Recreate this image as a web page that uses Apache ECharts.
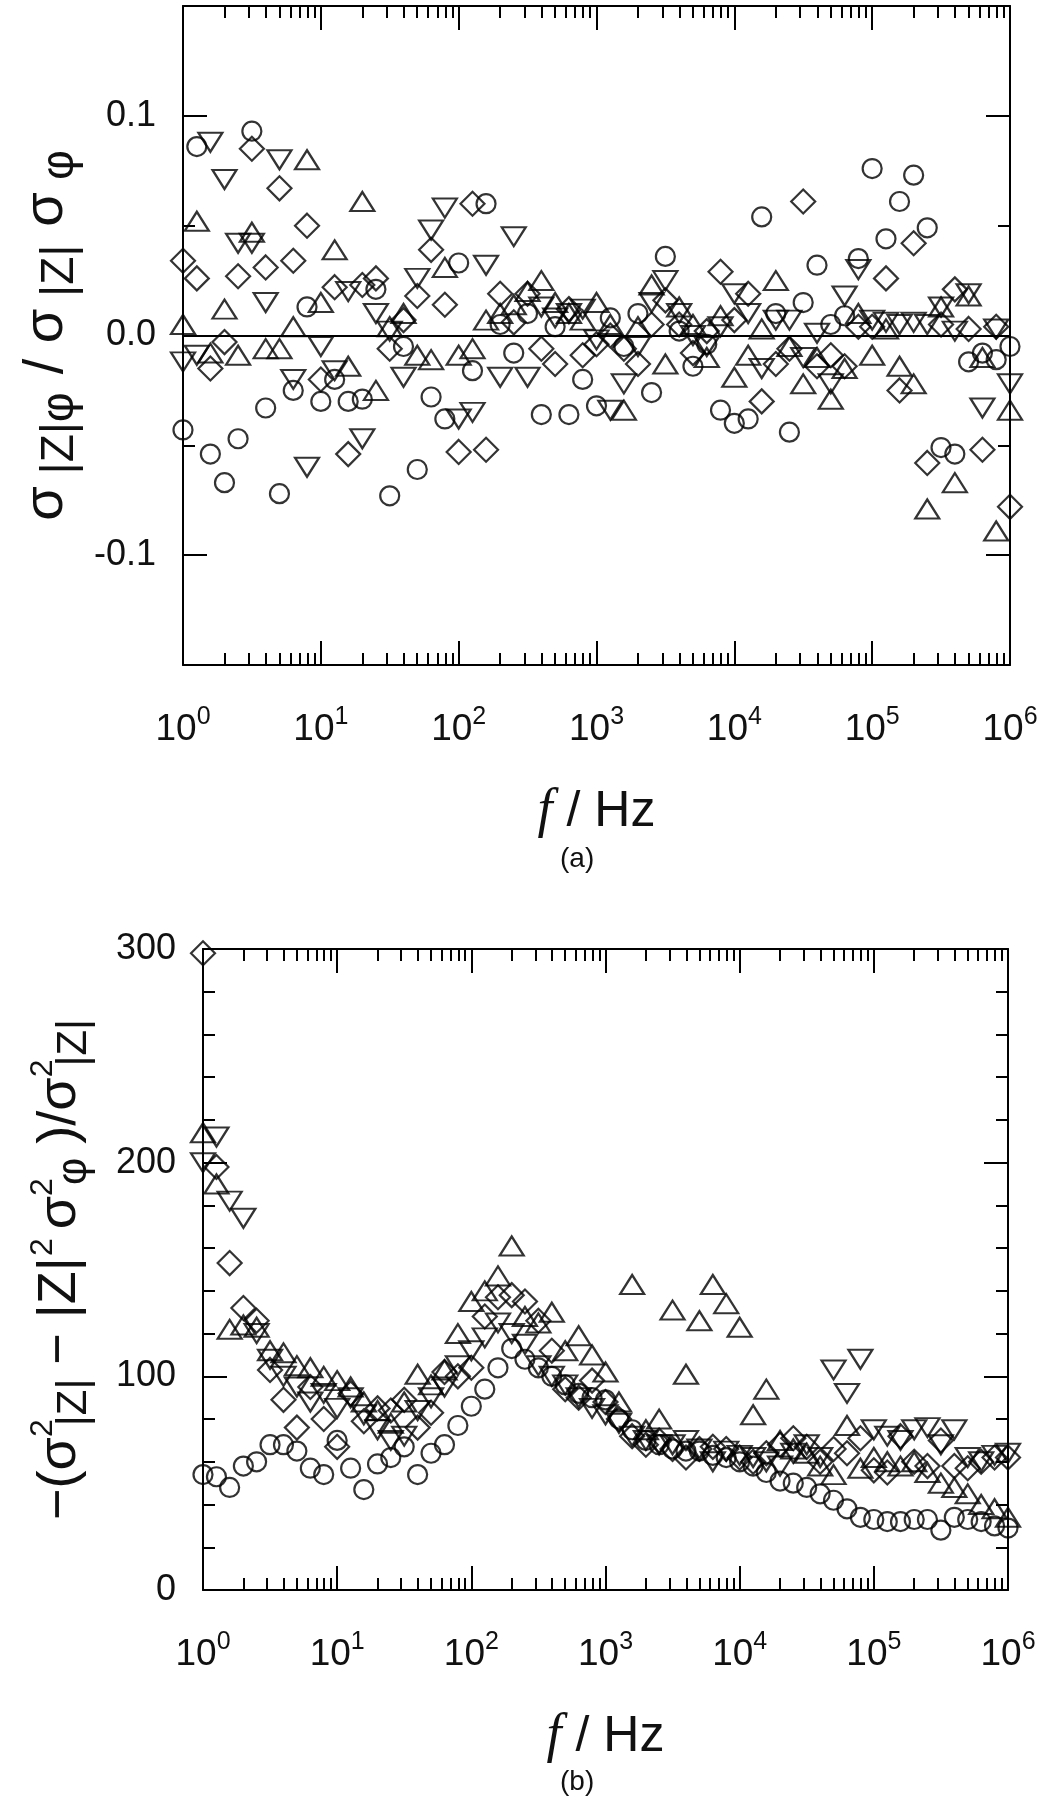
<!DOCTYPE html>
<html>
<head>
<meta charset="utf-8">
<script src="https://cdn.jsdelivr.net/npm/echarts@6/dist/echarts.min.js"></script>
<style>
  html, body { margin: 0; padding: 0; background: #fff; }
  #chart { width: 1038px; height: 1800px; }
</style>
</head>
<body>
<div id="chart"></div>
<script>
// frequencies, 10 points per decade, 1 Hz .. 1 MHz
const freq = [
  1, 1.26, 1.58, 2, 2.51, 3.16, 3.98, 5.01, 6.31, 7.94,
  10, 12.6, 15.8, 20, 25.1, 31.6, 39.8, 50.1, 63.1, 79.4,
  100, 126, 158, 200, 251, 316, 398, 501, 631, 794,
  1000, 1260, 1580, 2000, 2510, 3160, 3980, 5010, 6310, 7940,
  10000, 12600, 15800, 20000, 25100, 31600, 39800, 50100, 63100, 79400,
  100000, 126000, 158000, 200000, 251000, 316000, 398000, 501000, 631000, 794000,
  1000000
]

// panel (a)
const aCircle = [
  -0.043, 0.086, -0.054, -0.067, -0.047, 0.093, -0.033, -0.072, -0.025, 0.013,
  -0.030, -0.020, -0.030, -0.029, 0.021, -0.073, -0.005, -0.061, -0.028, -0.038,
  0.033, -0.016, 0.060, 0.005, -0.008, 0.010, -0.036, 0.004, -0.036, -0.020,
  -0.032, 0.008, -0.005, 0.010, -0.026, 0.036, 0.002, -0.014, -0.004, -0.034,
  -0.040, -0.038, 0.054, 0.010, -0.044, 0.015, 0.032, 0.005, 0.009, 0.035,
  0.076, 0.044, 0.061, 0.073, 0.049, -0.051, -0.054, -0.012, -0.008, -0.011,
  -0.005
]
const aUp = [
  0.005, 0.052, -0.008, 0.012, -0.009, 0.047, -0.006, -0.006, 0.004, 0.080,
  0.015, 0.039, -0.014, 0.061, -0.025, 0.004, 0.010, -0.009, -0.011, 0.031,
  -0.009, -0.006, 0.007, 0.010, 0.014, 0.020, 0.025, 0.015, 0.010, 0.007,
  0.015, 0.005, -0.034, 0.004, 0.023, -0.013, 0.013, 0.005, -0.010, 0.009,
  -0.019, -0.009, 0.003, 0.025, -0.005, -0.022, -0.010, -0.029, -0.015, 0.010,
  -0.009, 0.003, -0.014, -0.022, -0.079, 0.013, -0.067, 0.018, -0.010, -0.089,
  -0.034
]
const aDown = [
  -0.012, -0.009, 0.088, 0.071, 0.042, 0.042, 0.015, 0.080, -0.020, -0.060,
  -0.005, -0.016, 0.020, -0.047, 0.010, 0.002, -0.019, 0.026, 0.048, 0.058,
  -0.038, -0.035, 0.032, -0.019, 0.045, -0.019, 0.013, 0.008, 0.010, 0.012,
  -0.002, -0.034, -0.022, -0.005, 0.015, 0.025, 0.010, 0.000, -0.005, 0.004,
  0.019, 0.010, -0.015, 0.007, 0.007, -0.010, 0.001, -0.022, 0.018, 0.030,
  0.007, 0.006, 0.005, 0.006, 0.005, 0.013, 0.002, 0.019, -0.033, 0.003,
  -0.022
]
const aDiamond = [
  0.034, 0.026, -0.015, -0.003, 0.027, 0.085, 0.031, 0.067, 0.034, 0.050,
  -0.020, 0.022, -0.054, 0.023, 0.026, -0.006, 0.007, 0.018, 0.039, 0.014,
  -0.053, 0.060, -0.052, 0.019, 0.006, 0.019, -0.006, -0.013, 0.012, -0.009,
  -0.004, 0.000, -0.006, -0.013, 0.005, 0.016, 0.005, -0.008, 0.002, 0.029,
  0.007, 0.019, -0.030, -0.013, -0.006, 0.061, -0.014, -0.009, -0.014, 0.004,
  0.004, 0.026, -0.025, 0.042, -0.058, 0.005, 0.021, 0.003, -0.052, 0.004,
  -0.078
]

// panel (b)
const bCircle = [
  54, 53, 48, 58, 60, 68, 68, 65, 57, 54,
  70, 57, 47, 59, 62, 67, 54, 64, 68, 77,
  86, 94, 104, 113, 108, 104, 100, 96, 92, 90,
  89, 80, 75, 70, 68, 66, 65, 65, 63, 62,
  60, 58, 55, 51, 50, 48, 45, 42, 38, 34,
  33, 32, 32, 33, 33, 28, 34, 33, 32, 30,
  29
]
const bUp = [
  214, 190, 122, 124, 123, 112, 111, 105, 104, 100,
  98, 95, 88, 84, 78, 88, 101, 96, 103, 120,
  135, 140, 147, 161, 128, 125, 130, 112, 119, 110,
  102, 88, 143, 75, 80, 131, 101, 126, 143, 134,
  123, 82, 94, 70, 66, 64, 58, 54, 77, 57,
  62, 60, 58, 60, 55, 50, 48, 45, 40, 38,
  34
]
const bDown = [
  200, 212, 182, 174, 120, 108, 100, 95, 88, 92,
  85, 90, 82, 75, 70, 72, 84, 90, 95, 105,
  112, 118, 125, 120, 115, 105, 100, 96, 90, 85,
  82, 78, 72, 70, 68, 68, 70, 66, 60, 65,
  63, 62, 60, 58, 64, 68, 62, 103, 92, 108,
  75, 72, 70, 75, 76, 68, 75, 62, 60, 63,
  64
]
const bDiamond = [
  298, 198, 153, 132, 126, 103, 89, 76, 95, 80,
  67, 92, 79, 85, 84, 89, 76, 83, 102, 100,
  104, 128, 137, 138, 135, 126, 112, 94, 90, 98,
  88, 80, 72, 68, 70, 66, 62, 66, 67, 66,
  62, 60, 64, 68, 71, 67, 60, 66, 64, 71,
  56, 55, 72, 60, 58, 70, 58, 57, 60, 62,
  62
]

// tick labels
const xExponents = [0, 1, 2, 3, 4, 5, 6]
const aYTicks = [-0.1, 0, 0.1]
const aYMinor = [-0.15, -0.05, 0.05, 0.15]
const bYTicks = [0, 100, 200, 300]
const bYMinor = [20, 40, 60, 80, 120, 140, 160, 180, 220, 240, 260, 280]

const FONT = '"Liberation Sans", Arial, Helvetica, sans-serif'
const majorX = xExponents.map(e => Math.pow(10, e))
const minorX = []
for (let e = 0; e < 6; e++) {
  for (let k = 2; k <= 9; k++) minorX.push(k * Math.pow(10, e))
}

const black = '#000'
const ink = '#111'

function xAxisSet(gridIndex) {
  const base = {
    type: 'log', logBase: 10, gridIndex: gridIndex, min: 1, max: 1000000,
    splitLine: { show: false },
    axisLine: { show: true, onZero: false, lineStyle: { color: black, width: 2 } }
  }
  const labels = {
    show: true,
    customValues: majorX,
    margin: 40,
    formatter: v => '{b|10}{s|' + Math.round(Math.log10(v)) + '}',
    rich: {
      b: { fontSize: 37, fontFamily: FONT, color: ink },
      s: { fontSize: 25, fontFamily: FONT, color: ink, padding: [0, 0, 24, 0] }
    }
  }
  return [
    Object.assign({}, base, {
      position: 'bottom',
      axisTick: { show: true, inside: true, length: 24, customValues: majorX, lineStyle: { color: black, width: 2 } },
      axisLabel: labels,
      name: '{i|f}{n| / Hz}',
      nameLocation: 'middle',
      nameGap: 120,
      nameTextStyle: {
        rich: {
          i: { fontSize: 54, fontFamily: '"Liberation Serif", "Times New Roman", serif', fontStyle: 'italic', color: ink },
          n: { fontSize: 50, fontFamily: FONT, color: ink }
        }
      }
    }),
    Object.assign({}, base, {
      position: 'bottom',
      axisLine: { show: false, onZero: false },
      axisTick: { show: true, inside: true, length: 12, customValues: minorX, lineStyle: { color: black, width: 2 } },
      axisLabel: { show: false }
    }),
    Object.assign({}, base, {
      position: 'top',
      axisTick: { show: true, inside: true, length: 24, customValues: majorX, lineStyle: { color: black, width: 2 } },
      axisLabel: { show: false }
    }),
    Object.assign({}, base, {
      position: 'top',
      axisLine: { show: false, onZero: false },
      axisTick: { show: true, inside: true, length: 12, customValues: minorX, lineStyle: { color: black, width: 2 } },
      axisLabel: { show: false }
    })
  ]
}

function yAxisSet(gridIndex, min, max, ticks, minor, fmt, name, nameGap, nameRich) {
  const base = {
    type: 'value', gridIndex: gridIndex, min: min, max: max,
    splitLine: { show: false },
    axisLine: { show: true, lineStyle: { color: black, width: 2 } }
  }
  return [
    Object.assign({}, base, {
      position: 'left',
      axisTick: { show: true, inside: true, length: 24, customValues: ticks, lineStyle: { color: black, width: 2 } },
      axisLabel: { show: true, customValues: ticks, margin: 27, formatter: fmt, fontSize: 36, fontFamily: FONT, color: ink },
      name: name,
      nameLocation: 'middle',
      nameGap: nameGap,
      nameRotate: 90,
      nameTextStyle: { rich: nameRich }
    }),
    Object.assign({}, base, {
      position: 'left',
      axisLine: { show: false },
      axisTick: { show: true, inside: true, length: 12, customValues: minor, lineStyle: { color: black, width: 2 } },
      axisLabel: { show: false }
    }),
    Object.assign({}, base, {
      position: 'right',
      axisTick: { show: true, inside: true, length: 24, customValues: ticks, lineStyle: { color: black, width: 2 } },
      axisLabel: { show: false }
    }),
    Object.assign({}, base, {
      position: 'right',
      axisLine: { show: false },
      axisTick: { show: true, inside: true, length: 12, customValues: minor, lineStyle: { color: black, width: 2 } },
      axisLabel: { show: false }
    })
  ]
}

// y-axis titles: main text, subscripts, superscripts (k is stacked over the next subscript)
const aRich = {
  m: { fontSize: 56, fontFamily: FONT, color: ink, padding: [0, 9, 0, 9] },
  s: { fontSize: 46, fontFamily: FONT, color: ink, padding: [28, 9, 0, 3] }
}
const bRich = {
  m: { fontSize: 54, fontFamily: FONT, color: ink, padding: [0, 7, 0, 7] },
  n: { fontSize: 54, fontFamily: FONT, color: ink, padding: [0, 0, 0, 7] },
  s: { fontSize: 42, fontFamily: FONT, color: ink, padding: [28, 7, 0, 2] },
  p: { fontSize: 32, fontFamily: FONT, color: ink, padding: [0, 2, 34, 1] },
  k: { fontSize: 32, fontFamily: FONT, color: ink, padding: [0, 0, 34, 2], width: 0 }
}

const aName = '{m|σ}{s||Z|φ}{m|/ σ}{s||Z|}{m|σ}{s|φ}'
const bName = '{m|−(σ}{k|2}{s||Z|}{n|− |Z|}{p|2}{m|σ}{k|2}{s|φ}{m|)/σ}{k|2}{s||Z|}'

function pts(vals) {
  return freq.map((f, i) => [f, vals[i]])
}

function scatter(data, symbol, size, rotate, xIdx, yIdx) {
  return {
    type: 'scatter',
    xAxisIndex: xIdx,
    yAxisIndex: yIdx,
    data: data,
    symbol: symbol,
    symbolSize: size,
    symbolRotate: rotate,
    clip: false,
    silent: true,
    itemStyle: { color: 'rgba(0,0,0,0)', borderColor: black, borderWidth: 2.2 }
  }
}

const chart = echarts.init(document.getElementById('chart'), null, { renderer: 'canvas' })

const option = {
  backgroundColor: '#fff',
  animation: false,
  grid: [
    { left: 183, top: 6, width: 827, height: 659, outerBoundsMode: 'none', containLabel: false },
    { left: 203, top: 949, width: 805, height: 641, outerBoundsMode: 'none', containLabel: false }
  ],
  xAxis: xAxisSet(0).concat(xAxisSet(1)),
  yAxis: yAxisSet(0, -0.15, 0.15, aYTicks, aYMinor, v => v.toFixed(1), aName, 96, aRich)
    .concat(yAxisSet(1, 0, 300, bYTicks, bYMinor, v => String(Math.round(v)), bName, 108, bRich)),
  graphic: [
    { type: 'text', left: 560, top: 845, style: { text: '(a)', font: '28px ' + FONT, fill: ink } },
    { type: 'text', left: 560, top: 1768, style: { text: '(b)', font: '28px ' + FONT, fill: ink } }
  ],
  series: [
    Object.assign(scatter(pts(aCircle), 'circle', 19, 0, 0, 0), {
      markLine: {
        silent: true, symbol: 'none', label: { show: false },
        lineStyle: { color: black, width: 2, type: 'solid' },
        data: [{ yAxis: 0 }]
      }
    }),
    scatter(pts(aUp), 'triangle', [24, 19], 0, 0, 0),
    scatter(pts(aDown), 'triangle', [24, 19], 180, 0, 0),
    scatter(pts(aDiamond), 'diamond', [24, 24], 0, 0, 0),
    scatter(pts(bCircle), 'circle', 19, 0, 4, 4),
    scatter(pts(bUp), 'triangle', [24, 19], 0, 4, 4),
    scatter(pts(bDown), 'triangle', [24, 19], 180, 4, 4),
    scatter(pts(bDiamond), 'diamond', [24, 24], 0, 4, 4)
  ]
}

chart.setOption(option)
</script>
</body>
</html>
